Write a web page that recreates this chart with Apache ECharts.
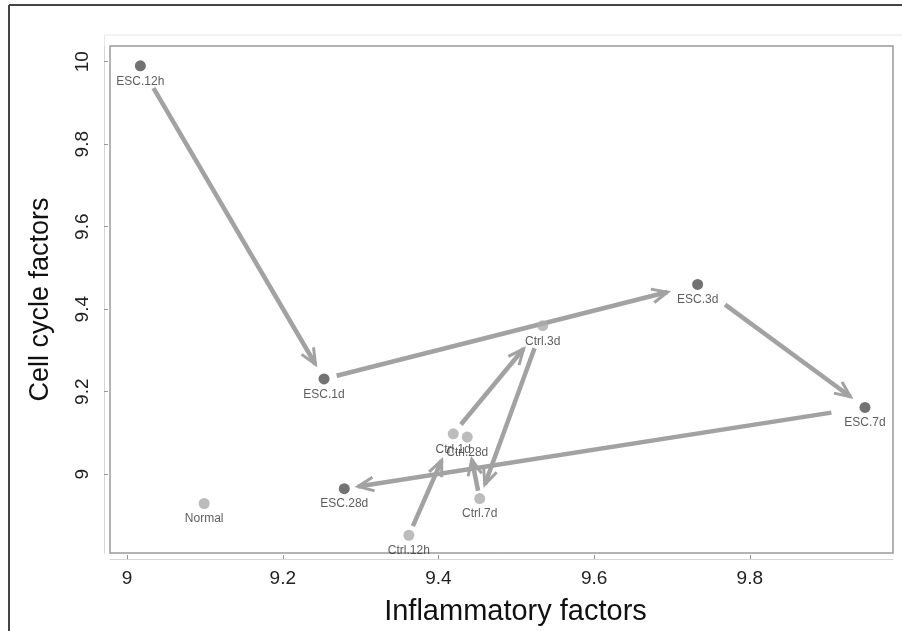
<!DOCTYPE html>
<html>
<head>
<meta charset="utf-8">
<script src="https://cdn.jsdelivr.net/npm/echarts@6/dist/echarts.min.js"></script>
<style>
  html, body { margin: 0; padding: 0; background: #ffffff; }
  #chart { width: 902px; height: 631px; }
</style>
</head>
<body>
<div id="chart"></div>
<script>
// ---- data ----
const pointNames   = ['ESC.12h', 'ESC.1d', 'ESC.3d', 'ESC.7d', 'ESC.28d',
                      'Ctrl.12h', 'Ctrl.1d', 'Ctrl.3d', 'Ctrl.7d', 'Ctrl.28d', 'Normal'];
const pointGroups  = ['ESC', 'ESC', 'ESC', 'ESC', 'ESC',
                      'Ctrl', 'Ctrl', 'Ctrl', 'Ctrl', 'Ctrl', 'Normal'];
const inflammatory = [9.017, 9.253, 9.733, 9.948, 9.279,
                      9.362, 9.419, 9.534, 9.453, 9.437, 9.099];
const cellCycle    = [9.990, 9.231, 9.460, 9.162, 8.965,
                      8.852, 9.098, 9.360, 8.941, 9.090, 8.929];
const escPath  = ['ESC.12h', 'ESC.1d', 'ESC.3d', 'ESC.7d', 'ESC.28d'];
const ctrlPath = ['Ctrl.12h', 'Ctrl.1d', 'Ctrl.3d', 'Ctrl.7d', 'Ctrl.28d'];
const xTicks = [9, 9.2, 9.4, 9.6, 9.8];
const yTicks = [9, 9.2, 9.4, 9.6, 9.8, 10];
const xTitle = 'Inflammatory factors';
const yTitle = 'Cell cycle factors';

// ---- style ----
const groupColors = { ESC: '#4f4f4f', Ctrl: '#ababab', Normal: '#ababab' };
// pixel gaps [start, end] left between each arrow and its points
const escGaps  = [[26, 17], [13, 31], [34, 18], [34, 14]];
const ctrlGaps = [[10, 29], [12, 30], [24, 15], [8, 23]];

// ---- build ----
function idx(name) { return pointNames.indexOf(name); }
const arrowData = [];
const arrowGaps = [];
[[escPath, escGaps], [ctrlPath, ctrlGaps]].forEach(([path, gaps]) => {
  for (let i = 0; i < path.length - 1; i++) {
    const a = idx(path[i]), b = idx(path[i + 1]);
    arrowData.push([inflammatory[a], cellCycle[a], inflammatory[b], cellCycle[b]]);
    arrowGaps.push(gaps[i]);
  }
});
const scatterData = pointNames.map((n, i) => ({
  name: n,
  value: [inflammatory[i], cellCycle[i]],
  itemStyle: { color: groupColors[pointGroups[i]] }
}));

const FONT = 'Liberation Sans, Arial, sans-serif';
const ARROW_COLOR = '#a2a2a2';

function renderArrow(params, api) {
  const p0 = api.coord([api.value(0), api.value(1)]);
  const p1 = api.coord([api.value(2), api.value(3)]);
  const dx = p1[0] - p0[0], dy = p1[1] - p0[1];
  const len = Math.sqrt(dx * dx + dy * dy);
  const ux = dx / len, uy = dy / len;
  const g = arrowGaps[params.dataIndex];
  const s = [p0[0] + ux * g[0], p0[1] + uy * g[0]];
  const e = [p1[0] - ux * g[1], p1[1] - uy * g[1]];
  const headLen = 17, ang = 24 * Math.PI / 180;
  const base = Math.atan2(-uy, -ux);
  const h1 = [e[0] + headLen * Math.cos(base + ang), e[1] + headLen * Math.sin(base + ang)];
  const h2 = [e[0] + headLen * Math.cos(base - ang), e[1] + headLen * Math.sin(base - ang)];
  const st = { stroke: ARROW_COLOR, lineWidth: 4.5, fill: null, lineCap: 'butt', lineJoin: 'miter' };
  return {
    type: 'group',
    children: [
      { type: 'line', shape: { x1: s[0], y1: s[1], x2: e[0], y2: e[1] }, style: st },
      { type: 'polyline', shape: { points: [h1, e, h2] }, style: Object.assign({}, st, { lineWidth: 3 }) }
    ]
  };
}

const chart = echarts.init(document.getElementById('chart'), null, { renderer: 'canvas' });
chart.setOption({
  backgroundColor: '#ffffff',
  animation: false,
  grid: {
    left: 110, right: 9, top: 46, bottom: 72,
    show: true, borderColor: '#9a9a9a', borderWidth: 1.5, backgroundColor: 'transparent'
  },
  xAxis: {
    type: 'value', min: 8.978, max: 9.984, offset: 6,
    name: xTitle, nameLocation: 'middle', nameGap: 38,
    nameTextStyle: { fontFamily: FONT, fontSize: 29, color: '#111', padding: [0, 0, 0, 28] },
    splitLine: { show: false },
    axisLine: { show: true, onZero: false, lineStyle: { color: '#d6d6d6', width: 1 } },
    axisTick: { show: true, inside: true, length: 4, customValues: xTicks, lineStyle: { color: '#999' } },
    axisLabel: { customValues: xTicks, fontFamily: FONT, fontSize: 19, color: '#222', margin: 10 }
  },
  yAxis: {
    type: 'value', min: 8.809, max: 10.038, offset: 6,
    name: yTitle, nameLocation: 'middle', nameGap: 50, nameRotate: 90,
    nameTextStyle: { fontFamily: FONT, fontSize: 27, color: '#111' },
    splitLine: { show: false },
    axisLine: { show: true, onZero: false, lineStyle: { color: '#d6d6d6', width: 1 } },
    axisTick: { show: true, inside: true, length: 4, customValues: yTicks, lineStyle: { color: '#999' } },
    axisLabel: { customValues: yTicks, rotate: 90, fontFamily: FONT, fontSize: 19, color: '#222', margin: 12 }
  },
  graphic: [
    { type: 'line', shape: { x1: 9, y1: 5, x2: 902, y2: 5 }, style: { stroke: '#444', lineWidth: 2 }, z: 100 },
    { type: 'line', shape: { x1: 9, y1: 5, x2: 9, y2: 631 }, style: { stroke: '#444', lineWidth: 2 }, z: 100 },
    { type: 'line', shape: { x1: 104.5, y1: 35, x2: 902, y2: 35 }, style: { stroke: '#e6e6e6', lineWidth: 1 }, z: 1 },
    { type: 'line', shape: { x1: 104.5, y1: 35, x2: 104.5, y2: 46 }, style: { stroke: '#e6e6e6', lineWidth: 1 }, z: 1 }
  ],
  series: [
    {
      type: 'custom', coordinateSystem: 'cartesian2d',
      renderItem: renderArrow, data: arrowData, z: 2, silent: true
    },
    {
      type: 'scatter', data: scatterData, symbolSize: 11, z: 3,
      label: {
        show: true, position: 'bottom', distance: 4, formatter: '{b}',
        fontFamily: FONT, fontSize: 12, color: '#333'
      }
    }
  ]
});
</script>
</body>
</html>
